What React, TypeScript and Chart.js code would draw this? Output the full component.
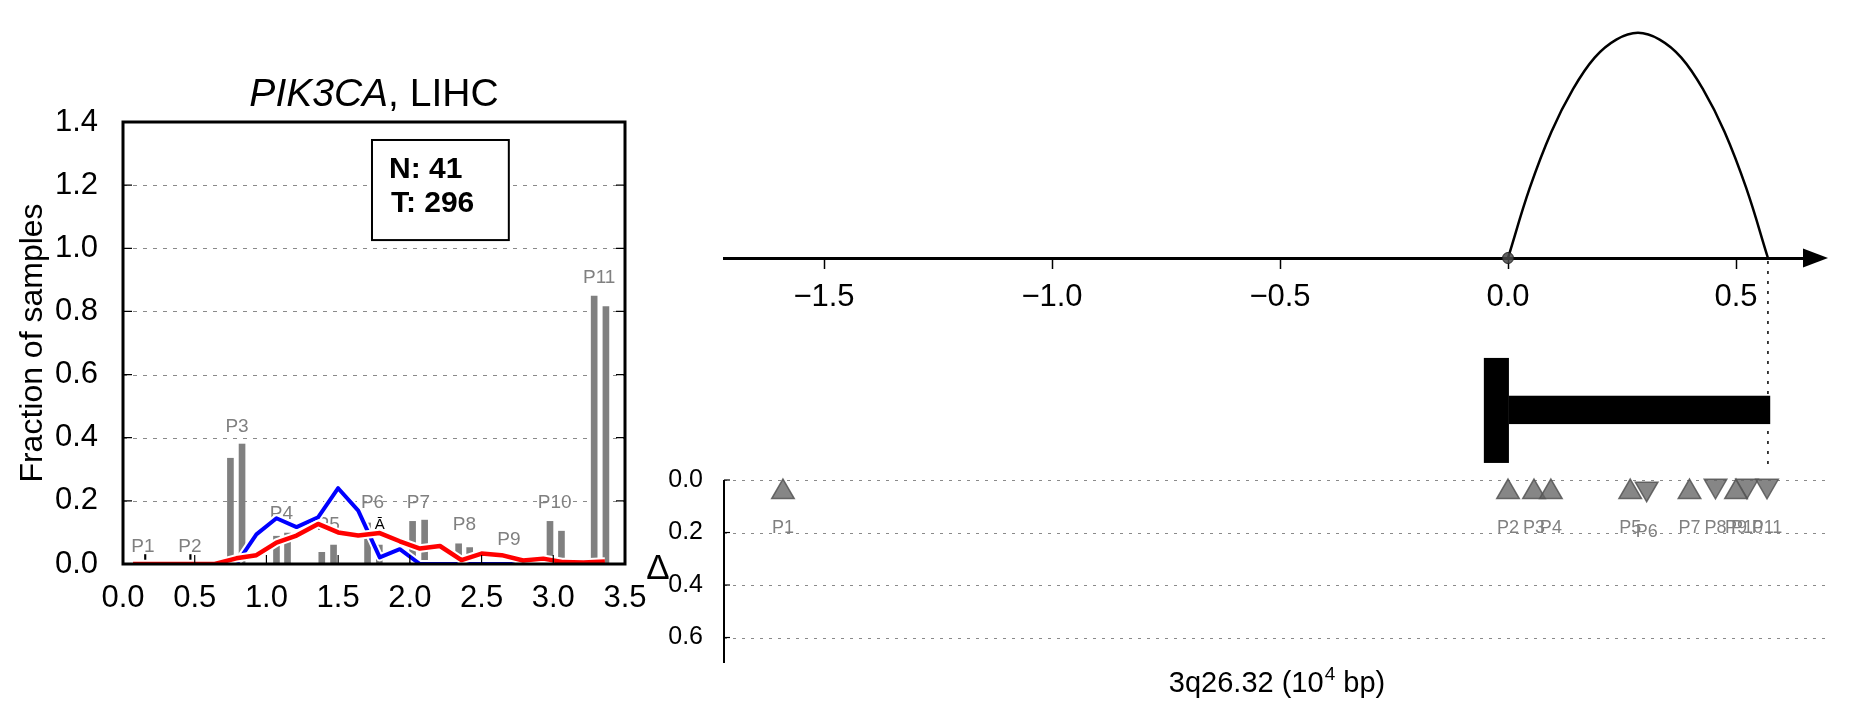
import React, { useEffect, useRef } from 'react';
import { Chart, registerables } from 'chart.js';

Chart.register(...registerables);

const FONT = "'Liberation Sans', Arial, Helvetica, sans-serif";

// ---------- Left panel data ----------
const BIN_X = [0.07, 0.21, 0.36, 0.5, 0.64, 0.79, 0.93, 1.07, 1.21, 1.36, 1.5, 1.64, 1.79, 1.93, 2.07, 2.21, 2.36, 2.5, 2.64, 2.79, 2.93, 3.07, 3.21, 3.36];
const RED_Y = [0, 0, 0, 0, 0, 0.018, 0.028, 0.068, 0.09, 0.127, 0.1, 0.09, 0.098, 0.072, 0.049, 0.057, 0.0125, 0.033, 0.028, 0.011, 0.017, 0.006, 0.005, 0.008];
const BLUE_Y = [null, null, null, null, null, 0, 0.094, 0.145, 0.117, 0.148, 0.24, 0.169, 0.021, 0.047, 0, 0, 0, 0, 0, 0, null, null, null, null];

const BAR_X = [0.749, 0.83, 1.07, 1.147, 1.386, 1.468, 1.705, 1.787, 2.019, 2.103, 2.34, 2.417, 2.977, 3.057, 3.285, 3.367];
const BAR_Y = [0.335, 0.38, 0.088, 0.098, 0.037, 0.06, 0.13, 0.06, 0.135, 0.139, 0.064, 0.052, 0.135, 0.104, 0.849, 0.815];
const MARK_X = [0.155, 0.47];
const MARK_Y = [0.03, 0.03];

const PEAK_LABELS = ['P1', 'P2', 'P3', 'P4', 'P5', 'P6', 'P7', 'P8', 'P9', 'P10', 'P11'];
const PEAK_LABEL_X = [0.139, 0.467, 0.795, 1.105, 1.43, 1.74, 2.06, 2.38, 2.69, 3.01, 3.32];
const PEAK_LABEL_Y = [0.054, 0.054, 0.434, 0.158, 0.125, 0.195, 0.195, 0.125, 0.077, 0.193, 0.908];

const LEFT_X_TICKS = [0, 0.5, 1.0, 1.5, 2.0, 2.5, 3.0, 3.5];
const LEFT_Y_TICKS = [0, 0.2, 0.4, 0.6, 0.8, 1.0, 1.2, 1.4];
const LEFT_GRID = [0.2, 0.4, 0.6, 0.8, 1.0, 1.2];
const COUNT_LINES = ['N: 41', 'T: 296'];

// ---------- Right panel data ----------
const ARC_X = [0, 0.0475, 0.095, 0.1425, 0.19, 0.2375, 0.285, 0.3325, 0.38, 0.4275, 0.475, 0.5225, 0.57];
const ARC_Y = [0, 0.31, 0.56, 0.75, 0.89, 0.97, 1.0, 0.97, 0.89, 0.75, 0.56, 0.31, 0];
const ORIGIN_X = [0];
const ORIGIN_Y = [0];
const TOP_X_TICKS = [-1.5, -1.0, -0.5, 0, 0.5];

const DELTA_TICKS = [0, 0.2, 0.4, 0.6];
const POS_LABELS = ['P1', 'P2', 'P3', 'P4', 'P5', 'P6', 'P7', 'P8', 'P9', 'P10', 'P11'];
const POS_X = [-1.59, 0.0, 0.057, 0.094, 0.268, 0.304, 0.398, 0.455, 0.5, 0.524, 0.568];
const POS_DELTA = [0.046, 0.046, 0.046, 0.046, 0.046, 0.033, 0.046, 0.022, 0.046, 0.022, 0.022];
const POS_DIR = ['up', 'up', 'up', 'up', 'up', 'down', 'up', 'down', 'up', 'down', 'down'];
const POS_LABEL_DELTA = [0.183, 0.183, 0.183, 0.183, 0.183, 0.198, 0.183, 0.183, 0.183, 0.183, 0.183];

const GENE_STEM_X = [-0.053, 0.002];
const GENE_STEM_D = [-0.465, -0.065];
const GENE_BODY_X = [0.002, 0.575];
const GENE_BODY_D = [-0.321, -0.213];
const END_MARK_X = 0.57;
const END_MARK_Y = [0, -0.926];

const pts = (xs: number[], ys: (number | null)[]) => xs.map((x, i) => ({ x, y: ys[i] }));
const fmt1 = (v: any) => Number(v).toFixed(1);
const fmtMinus = (v: any) => {
  const n = Number(v);
  return n < 0 ? '\u2212' + Math.abs(n).toFixed(1) : n.toFixed(1);
};

function leftConfig(): any {
  const decor = {
    id: 'leftDecor',
    beforeDatasetsDraw(chart: any) {
      const { ctx, chartArea: ca } = chart;
      const xs = chart.scales.x, ys = chart.scales.y;
      ctx.save();
      ctx.strokeStyle = '#8a8a8a';
      ctx.lineWidth = 1;
      ctx.setLineDash([4, 6]);
      LEFT_GRID.forEach((v) => {
        const y = Math.round(ys.getPixelForValue(v)) + 0.5;
        ctx.beginPath();
        ctx.moveTo(ca.left, y);
        ctx.lineTo(ca.right, y);
        ctx.stroke();
      });
      ctx.setLineDash([]);
      ctx.fillStyle = '#808080';
      ctx.font = `19px ${FONT}`;
      ctx.textAlign = 'center';
      ctx.textBaseline = 'middle';
      PEAK_LABELS.forEach((t, i) => {
        ctx.fillText(t, xs.getPixelForValue(PEAK_LABEL_X[i]), ys.getPixelForValue(PEAK_LABEL_Y[i]));
      });
      ctx.restore();
    },
    afterDatasetsDraw(chart: any) {
      const { ctx, chartArea: ca } = chart;
      const xs = chart.scales.x, ys = chart.scales.y;
      ctx.save();
      ctx.strokeStyle = '#000';
      ctx.lineWidth = 1.2;
      LEFT_GRID.forEach((v) => {
        const y = ys.getPixelForValue(v);
        ctx.beginPath();
        ctx.moveTo(ca.left, y); ctx.lineTo(ca.left + 9, y);
        ctx.moveTo(ca.right, y); ctx.lineTo(ca.right - 9, y);
        ctx.stroke();
      });
      LEFT_X_TICKS.slice(1, -1).forEach((v) => {
        const x = xs.getPixelForValue(v);
        ctx.beginPath();
        ctx.moveTo(x, ca.bottom); ctx.lineTo(x, ca.bottom - 9);
        ctx.stroke();
      });
      ctx.lineWidth = 3;
      ctx.strokeRect(ca.left, ca.top, ca.right - ca.left, ca.bottom - ca.top);
      ctx.fillStyle = '#000';
      ctx.font = `15px ${FONT}`;
      ctx.textAlign = 'center';
      ctx.textBaseline = 'middle';
      ctx.fillText('\u0100', xs.getPixelForValue(1.79), ys.getPixelForValue(0.124));
      const bx0 = xs.getPixelForValue(1.736), bx1 = xs.getPixelForValue(2.69);
      const by0 = ys.getPixelForValue(1.343), by1 = ys.getPixelForValue(1.026);
      ctx.fillStyle = '#fff';
      ctx.fillRect(bx0, by0, bx1 - bx0, by1 - by0);
      ctx.lineWidth = 2;
      ctx.strokeStyle = '#000';
      ctx.strokeRect(bx0, by0, bx1 - bx0, by1 - by0);
      ctx.fillStyle = '#000';
      ctx.font = `bold 30px ${FONT}`;
      ctx.textAlign = 'left';
      ctx.fillText(COUNT_LINES[0], xs.getPixelForValue(1.855), ys.getPixelForValue(1.248));
      ctx.fillText(COUNT_LINES[1], xs.getPixelForValue(1.868), ys.getPixelForValue(1.14));
      ctx.textBaseline = 'alphabetic';
      ctx.textAlign = 'left';
      ctx.font = `italic 39px ${FONT}`;
      const w1 = ctx.measureText('PIK3CA').width;
      ctx.font = `39px ${FONT}`;
      const w2 = ctx.measureText(', LIHC').width;
      const cx = (ca.left + ca.right) / 2;
      const x0 = cx - (w1 + w2) / 2;
      ctx.font = `italic 39px ${FONT}`;
      ctx.fillText('PIK3CA', x0, 106);
      ctx.font = `39px ${FONT}`;
      ctx.fillText(', LIHC', x0 + w1, 106);
      ctx.translate(33, (ca.top + ca.bottom) / 2);
      ctx.rotate(-Math.PI / 2);
      ctx.textAlign = 'center';
      ctx.textBaseline = 'middle';
      ctx.font = `32px ${FONT}`;
      ctx.fillText('Fraction of samples', 0, 0);
      ctx.restore();
    },
  };
  return {
    type: 'line',
    data: {
      datasets: [
        { type: 'line', data: pts(BIN_X, RED_Y), borderColor: '#ff0000', borderWidth: 4.5, pointRadius: 0, order: 1, borderJoinStyle: 'round' },
        { type: 'line', data: pts(BIN_X, RED_Y), borderColor: '#ffffff', borderWidth: 8.5, pointRadius: 0, order: 2, borderJoinStyle: 'round' },
        { type: 'line', data: pts(BIN_X, BLUE_Y), borderColor: '#0000ff', borderWidth: 4, pointRadius: 0, order: 3, borderJoinStyle: 'round' },
        { type: 'line', data: pts(BIN_X, BLUE_Y), borderColor: '#ffffff', borderWidth: 8, pointRadius: 0, order: 4, borderJoinStyle: 'round' },
        { type: 'bar', data: pts(BAR_X, BAR_Y), backgroundColor: '#808080', grouped: false, barThickness: 6, maxBarThickness: 6, order: 5 },
        { type: 'bar', data: pts(MARK_X, MARK_Y), backgroundColor: '#000000', grouped: false, barThickness: 1.5, maxBarThickness: 1.5, order: 6 },
      ],
    },
    options: {
      animation: false,
      responsive: false,
      events: [],
      layout: { padding: { left: 0, right: 75, top: 122, bottom: 0 } },
      plugins: { legend: { display: false }, tooltip: { enabled: false }, title: { display: false } },
      scales: {
        x: {
          type: 'linear', min: 0, max: 3.5, offset: false,
          afterBuildTicks: (a: any) => { a.ticks = LEFT_X_TICKS.map((v) => ({ value: v })); },
          ticks: { font: { size: 31 }, color: '#000', padding: 8, maxRotation: 0, autoSkip: false, callback: fmt1 },
          grid: { display: false }, border: { display: false },
          afterFit: (a: any) => { a.height = 154; },
        },
        y: {
          type: 'linear', min: 0, max: 1.4,
          afterBuildTicks: (a: any) => { a.ticks = LEFT_Y_TICKS.map((v) => ({ value: v })); },
          ticks: { font: { size: 31 }, color: '#000', padding: 17, autoSkip: false, callback: fmt1 },
          grid: { display: false }, border: { display: false },
          afterFit: (a: any) => { a.width = 123; },
        },
      },
    },
    plugins: [decor],
  };
}

function topConfig(): any {
  const decor = {
    id: 'topDecor',
    afterDraw(chart: any) {
      const { ctx, chartArea: ca } = chart;
      const xs = chart.scales.x, ys = chart.scales.y;
      ctx.save();
      const yAxis = ys.getPixelForValue(0);
      ctx.fillStyle = '#000';
      ctx.beginPath();
      ctx.moveTo(ca.right - 12, yAxis - 9.5);
      ctx.lineTo(ca.right + 13, yAxis);
      ctx.lineTo(ca.right - 12, yAxis + 9.5);
      ctx.closePath();
      ctx.fill();
      ctx.strokeStyle = '#000';
      ctx.lineWidth = 1.5;
      ctx.setLineDash([3, 7]);
      const x = xs.getPixelForValue(END_MARK_X);
      ctx.beginPath();
      ctx.moveTo(x, ys.getPixelForValue(END_MARK_Y[0]) + 3);
      ctx.lineTo(x, ys.getPixelForValue(END_MARK_Y[1]));
      ctx.stroke();
      ctx.restore();
    },
  };
  return {
    type: 'line',
    data: {
      datasets: [
        { type: 'line', data: pts(ARC_X, ARC_Y), borderColor: '#000', borderWidth: 2.5, pointRadius: 0, tension: 0.4, clip: false, order: 2 },
        { type: 'scatter', data: pts(ORIGIN_X, ORIGIN_Y), pointRadius: 5.5, backgroundColor: 'rgba(70,70,70,0.85)', borderColor: 'rgba(30,30,30,0.9)', borderWidth: 1, clip: false, order: 1 },
      ],
    },
    options: {
      animation: false,
      responsive: false,
      events: [],
      layout: { padding: { left: 104, right: 36, top: 0, bottom: 0 } },
      plugins: { legend: { display: false }, tooltip: { enabled: false } },
      scales: {
        x: {
          type: 'linear', min: -1.7193, max: 0.6732,
          afterBuildTicks: (a: any) => { a.ticks = TOP_X_TICKS.map((v) => ({ value: v })); },
          ticks: { font: { size: 31 }, color: '#000', padding: 10, maxRotation: 0, autoSkip: false, callback: fmtMinus },
          grid: { display: true, drawOnChartArea: false, drawTicks: true, tickLength: 11, tickColor: '#000', tickWidth: 1.5 },
          border: { display: true, color: '#000', width: 3 },
          afterFit: (a: any) => { a.height = 460; },
        },
        y: { type: 'linear', display: false, min: 0, max: 1.1169 },
      },
    },
    plugins: [decor],
  };
}

function lowConfig(): any {
  const decor = {
    id: 'lowDecor',
    beforeDatasetsDraw(chart: any) {
      const { ctx, chartArea: ca } = chart;
      const xs = chart.scales.x, ys = chart.scales.y;
      ctx.save();
      ctx.strokeStyle = '#8a8a8a';
      ctx.lineWidth = 1;
      ctx.setLineDash([3, 6]);
      DELTA_TICKS.forEach((v) => {
        const y = Math.round(ys.getPixelForValue(v)) + 0.5;
        ctx.beginPath();
        ctx.moveTo(ca.left, y);
        ctx.lineTo(ca.right, y);
        ctx.stroke();
      });
      ctx.setLineDash([]);
      ctx.strokeStyle = '#000';
      ctx.lineWidth = 2;
      ctx.beginPath();
      ctx.moveTo(ca.left, ys.getPixelForValue(0));
      ctx.lineTo(ca.left, ca.bottom);
      ctx.stroke();
      ctx.lineWidth = 1.2;
      DELTA_TICKS.forEach((v) => {
        const y = ys.getPixelForValue(v);
        ctx.beginPath();
        ctx.moveTo(ca.left, y); ctx.lineTo(ca.left + 6, y);
        ctx.stroke();
      });
      ctx.fillStyle = '#000';
      const sx0 = xs.getPixelForValue(GENE_STEM_X[0]), sx1 = xs.getPixelForValue(GENE_STEM_X[1]);
      const sy0 = ys.getPixelForValue(GENE_STEM_D[0]), sy1 = ys.getPixelForValue(GENE_STEM_D[1]);
      ctx.fillRect(sx0, sy0, sx1 - sx0, sy1 - sy0);
      const bx0 = xs.getPixelForValue(GENE_BODY_X[0]), bx1 = xs.getPixelForValue(GENE_BODY_X[1]);
      const by0 = ys.getPixelForValue(GENE_BODY_D[0]), by1 = ys.getPixelForValue(GENE_BODY_D[1]);
      ctx.fillRect(bx0, by0, bx1 - bx0, by1 - by0);
      ctx.font = `35px ${FONT}`;
      ctx.textAlign = 'center';
      ctx.textBaseline = 'middle';
      ctx.fillText('\u0394', ca.left - 66, (ys.getPixelForValue(0) + ca.bottom) / 2 - 2);
      ctx.textBaseline = 'alphabetic';
      ctx.textAlign = 'left';
      ctx.font = `29px ${FONT}`;
      const a = '3q26.32 (10', b = ' bp)';
      const wa = ctx.measureText(a).width, wb = ctx.measureText(b).width;
      ctx.font = `19px ${FONT}`;
      const ws = ctx.measureText('4').width;
      const cx = (ca.left + ca.right) / 2;
      const x0 = cx - (wa + ws + wb) / 2;
      const base = ca.bottom + 29;
      ctx.font = `29px ${FONT}`;
      ctx.fillText(a, x0, base);
      ctx.font = `19px ${FONT}`;
      ctx.fillText('4', x0 + wa + 1, base - 12);
      ctx.font = `29px ${FONT}`;
      ctx.fillText(b, x0 + wa + ws + 1, base);
      ctx.restore();
    },
    afterDatasetsDraw(chart: any) {
      const { ctx } = chart;
      const xs = chart.scales.x, ys = chart.scales.y;
      ctx.save();
      ctx.fillStyle = '#808080';
      ctx.font = `18px ${FONT}`;
      ctx.textAlign = 'center';
      ctx.textBaseline = 'middle';
      POS_LABELS.forEach((t, i) => {
        ctx.fillText(t, xs.getPixelForValue(POS_X[i]), ys.getPixelForValue(POS_LABEL_DELTA[i]));
      });
      ctx.restore();
    },
  };
  const up = POS_X.map((x, i) => ({ x, y: POS_DELTA[i] })).filter((_, i) => POS_DIR[i] === 'up');
  const down = POS_X.map((x, i) => ({ x, y: POS_DELTA[i] })).filter((_, i) => POS_DIR[i] === 'down');
  const style = { pointStyle: 'triangle', pointRadius: 13, backgroundColor: 'rgba(100,100,100,0.78)', borderColor: 'rgba(85,85,85,0.85)', borderWidth: 1.5, clip: false };
  return {
    type: 'scatter',
    data: {
      datasets: [
        { ...style, data: up, pointRotation: 0 },
        { ...style, data: down, pointRotation: 180 },
      ],
    },
    options: {
      animation: false,
      responsive: false,
      events: [],
      layout: { padding: { left: 0, right: 22, top: 340, bottom: 55 } },
      plugins: { legend: { display: false }, tooltip: { enabled: false } },
      scales: {
        x: { type: 'linear', display: false, min: -1.7193, max: 0.7039 },
        y: {
          type: 'linear', reverse: true, min: -0.5333, max: 0.6971,
          afterBuildTicks: (a: any) => { a.ticks = DELTA_TICKS.map((v) => ({ value: v })); },
          ticks: { font: { size: 25 }, color: '#000', padding: 13, autoSkip: false, callback: fmt1 },
          grid: { display: false }, border: { display: false },
          afterFit: (a: any) => { a.width = 104; },
        },
      },
    },
    plugins: [decor],
  };
}

export default function App() {
  const leftRef = useRef<HTMLCanvasElement>(null);
  const topRef = useRef<HTMLCanvasElement>(null);
  const lowRef = useRef<HTMLCanvasElement>(null);

  useEffect(() => {
    Chart.defaults.font.family = FONT;
    const charts: Chart[] = [];
    if (leftRef.current) charts.push(new Chart(leftRef.current, leftConfig()));
    if (topRef.current) charts.push(new Chart(topRef.current, topConfig()));
    if (lowRef.current) charts.push(new Chart(lowRef.current, lowConfig()));
    return () => charts.forEach((c) => c.destroy());
  }, []);

  return (
    <div style={{ position: 'fixed', left: 0, top: 0, width: 1851, height: 718, background: '#fff', overflow: 'hidden' }}>
      <canvas ref={leftRef} width={700} height={718} style={{ position: 'absolute', left: 0, top: 0 }} />
      <canvas ref={topRef} width={1231} height={718} style={{ position: 'absolute', left: 620, top: 0 }} />
      <canvas ref={lowRef} width={1231} height={718} style={{ position: 'absolute', left: 620, top: 0 }} />
    </div>
  );
}
